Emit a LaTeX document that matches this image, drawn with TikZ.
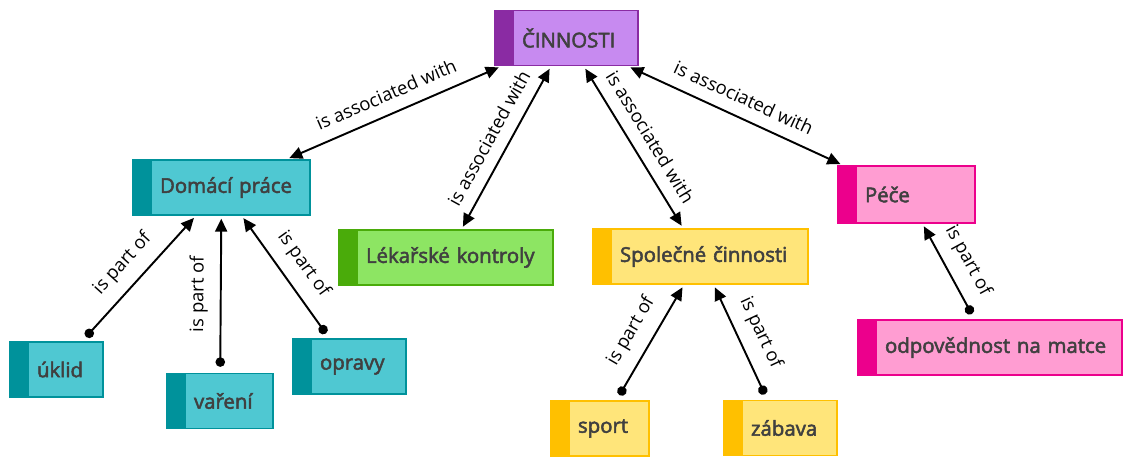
\documentclass[tikz,border=0pt]{standalone}
\usepackage{fontspec}
\setmainfont{Open Sans}
\newfontfamily\boxfont[FakeBold=2.5]{Open Sans}
\usetikzlibrary{arrows.meta}
\hyphenpenalty=10000
\exhyphenpenalty=10000

\definecolor{textgray}{HTML}{404040}
\definecolor{cinfill}{HTML}{C78AF0}
\definecolor{cinbar}{HTML}{8A2BA3}
\definecolor{domfill}{HTML}{4FC8D2}
\definecolor{dombar}{HTML}{00929B}
\definecolor{lekfill}{HTML}{8DE563}
\definecolor{lekbar}{HTML}{4AAB0A}
\definecolor{spolfill}{HTML}{FFE57A}
\definecolor{spolbar}{HTML}{FFC000}
\definecolor{pecefill}{HTML}{FF9DD2}
\definecolor{pecebar}{HTML}{EC008C}

\begin{document}
\begin{tikzpicture}[x=0.02cm, y=-0.02cm,
	concept/.style n args={3}{draw=#2, fill=#1, line width=0.8pt, text width=#3, align=left, inner xsep=0.54cm, minimum height=1.1cm, text=textgray, font=\boxfont\fontsize{11.6}{14}\selectfont,
		path picture={\fill[#2] (path picture bounding box.south west) rectangle ([xshift=0.38cm]path picture bounding box.north west);}},
	assoc/.style={{Triangle[length=0.26cm, width=0.24cm]}-{Triangle[length=0.26cm, width=0.24cm]}, line width=1.1pt, shorten <=0.06cm, shorten >=0.06cm},
	partof/.style={{Circle[length=0.19cm]}-{Triangle[length=0.26cm, width=0.24cm]}, line width=1.1pt, shorten <=0.12cm, shorten >=0.06cm},
	rel/.style={sloped, above=0.12cm, font=\fontsize{10.5}{12}\selectfont, text=black}]

	\useasboundingbox (0,0) rectangle (1124,456);

	% uzly
	\node[concept={cinfill}{cinbar}{1.78cm}] (cin) at (566.5,38) {ČINNOSTI};
	\node[concept={domfill}{dombar}{2.46cm}] (dom) at (221.5,187.5) {\mbox{Domácí práce}};
	\node[concept={lekfill}{lekbar}{3.2cm}] (lek) at (446,257.5) {\mbox{Lékařské kontroly}};
	\node[concept={spolfill}{spolbar}{3.22cm}] (spol) at (700.5,256.5) {\mbox{Společné činnosti}};
	\node[concept={pecefill}{pecebar}{1.66cm}, minimum height=1.14cm] (pece) at (906.5,194.5) {Péče};
	\node[concept={domfill}{dombar}{0.78cm}] (uklid) at (56.5,369.5) {úklid};
	\node[concept={domfill}{dombar}{1.04cm}] (vareni) at (220,401) {vaření};
	\node[concept={domfill}{dombar}{1.18cm}] (opravy) at (349.5,366.5) {opravy};
	\node[concept={spolfill}{spolbar}{0.88cm}] (sport) at (600,428.5) {sport};
	\node[concept={spolfill}{spolbar}{1.18cm}] (zabava) at (780.5,428) {zábava};
	\node[concept={pecefill}{pecebar}{4.2cm}] (odp) at (990,347.5) {\mbox{odpovědnost na matce}};

	% vazby
	\draw[assoc] (dom) -- node[rel] {is associated with} (cin);
	\draw[assoc] (lek) -- node[rel] {is associated with} (cin);
	\draw[assoc] (spol) -- node[rel] {is associated with} (cin);
	\draw[assoc] (pece) -- node[rel] {is associated with} (cin);
	\draw[partof] (uklid) -- node[rel] {is part of} (dom);
	\draw[partof] (vareni) -- node[rel] {is part of} (dom);
	\draw[partof] (opravy) -- node[rel] {is part of} (dom);
	\draw[partof] (sport) -- node[rel] {is part of} (spol);
	\draw[partof] (zabava) -- node[rel] {is part of} (spol);
	\draw[partof] (odp) -- node[rel] {is part of} (pece);
\end{tikzpicture}
\end{document}
